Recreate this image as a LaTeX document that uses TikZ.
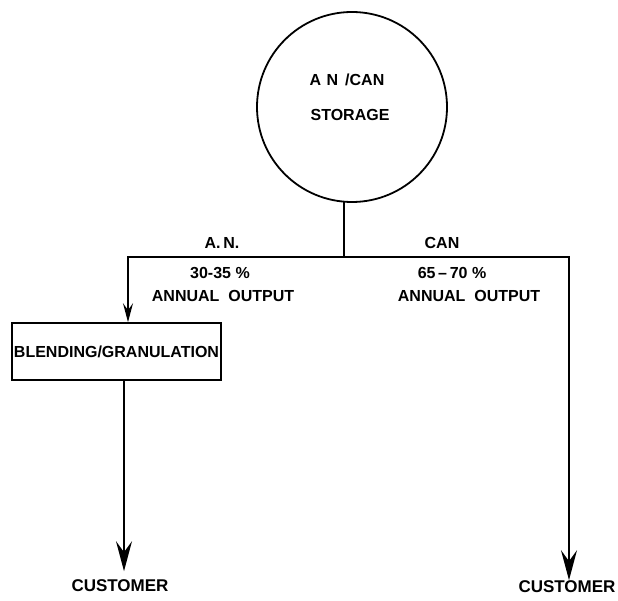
\documentclass[tikz,border=0pt]{standalone}
\usepackage{fontspec}
\setmainfont{Liberation Sans}
\usetikzlibrary{arrows.meta}
\begin{document}
\begin{tikzpicture}[x=1pt,y=-1pt, line width=1.6pt,
  lbl/.style={font=\bfseries\fontsize{16}{18}\selectfont, inner sep=0pt},
  custlbl/.style={font=\bfseries\fontsize{17}{19}\selectfont, inner sep=0pt},
  bigtip/.style={-{Stealth[length=30pt,width=16pt,inset=11pt]}},
  smalltip/.style={-{Stealth[length=19pt,width=10pt,inset=7pt]}}]
\useasboundingbox[fill=white] (0,0) rectangle (618,601);
\node[draw, circle, minimum size=190pt, inner sep=0pt, outer sep=0pt, line width=1.8pt] (st) at (352,107) {};
\node[lbl] (t1) at (347,80) {A\,\,N\, /CAN};
\node[lbl] (t2) at (350,115) {STORAGE};
\coordinate (j) at (344,257);
\coordinate (jl) at (128,257);
\coordinate (jr) at (569,257);
\node[draw, minimum width=209pt, minimum height=57pt, inner sep=0pt, lbl] (bg) at (116.5,351.5) {BLENDING/GRANULATION};
\node[lbl] (an) at (222,243) {A.\,N.};
\node[lbl] (can) at (442,243) {CAN};
\node[lbl] (p1) at (220,273) {30-35 \%};
\node[lbl] (o1) at (223,296) {ANNUAL\ \ OUTPUT};
\node[lbl] (p2) at (452,273) {65\,–\,70 \%};
\node[lbl] (o2) at (469,296) {ANNUAL\ \ OUTPUT};
\node[custlbl] (c1) at (120,586) {CUSTOMER};
\node[custlbl] (c2) at (567,587) {CUSTOMER};
\draw (st.south -| j) -- (j);
\draw[smalltip] (j) -- (jl) -- (bg.north -| jl);
\draw[bigtip] (j) -- (jr) -- (c2.north -| jr);
\draw[bigtip, shorten >=8pt] (bg.south -| 124,0) -- (c1.north -| 124,0);
\end{tikzpicture}
\end{document}
